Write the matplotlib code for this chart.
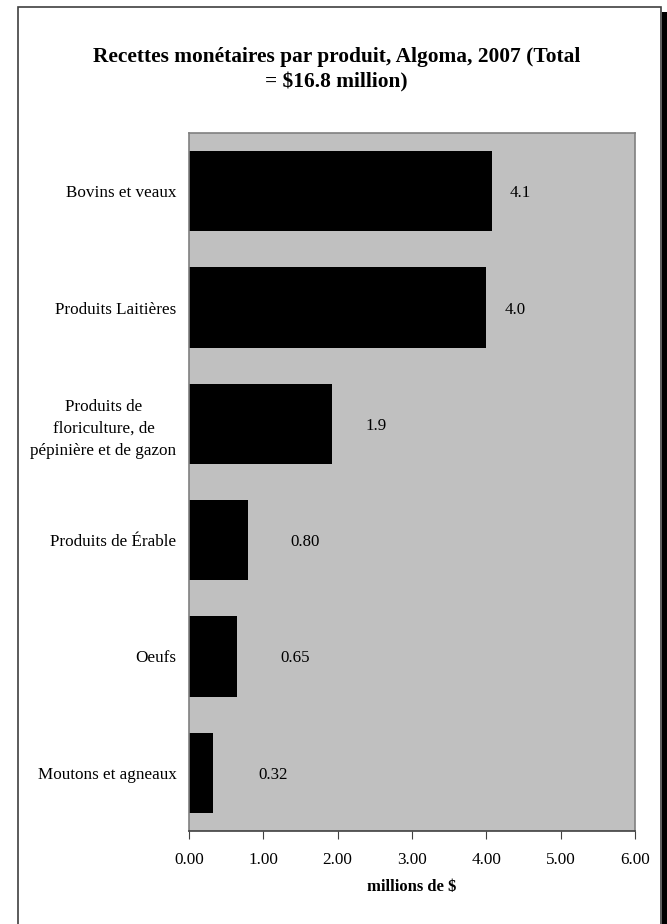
import matplotlib
matplotlib.use("Agg")
import matplotlib.pyplot as plt
from matplotlib.patches import Rectangle

plt.rcParams['font.family'] = ['Liberation Serif', 'DejaVu Serif']

# data
produits = ["Bovins et veaux",
            "Produits Laitières",
            "Produits de\nfloriculture, de\npépinière et de gazon",
            "Produits de Érable",
            "Oeufs",
            "Moutons et agneaux"]
recettes = [4.07, 3.99, 1.92, 0.80, 0.65, 0.32]
etiquettes = ["4.1", "4.0", "1.9", "0.80", "0.65", "0.32"]
xticks = [0, 1, 2, 3, 4, 5, 6]

fig = plt.figure(figsize=(6.67, 9.24), dpi=100)
ax = fig.add_axes([189/667, 1 - 831/924, (635 - 189)/667, (831 - 133)/924])

# outer frame + shadow (Excel style)
fig.patches.append(Rectangle((662/667, -0.1), 5/667, 1 - 12/924 + 0.1,
                             transform=fig.transFigure, facecolor='black',
                             edgecolor='none', zorder=-2))
fig.patches.append(Rectangle((18/667, -0.1), (661 - 18)/667, 1 - 7/924 + 0.1,
                             transform=fig.transFigure, facecolor='white',
                             edgecolor='#404040', linewidth=1.2, zorder=-1))

pos = list(range(len(produits)))
ax.barh(pos, recettes, height=0.69, color='black', zorder=2)
for p, v, t in zip(pos, recettes, etiquettes):
    ax.text(0.65 + 0.9 * v, p, t, ha='left', va='center_baseline', fontsize=12.2)

ax.set_facecolor('#C0C0C0')
ax.set_xlim(0, 6)
ax.set_ylim(len(produits) - 0.5, -0.5)
ax.set_xticks(xticks)
ax.set_xticklabels(["%.2f" % x for x in xticks], fontsize=12.3)
ax.set_yticks(pos)
ax.set_yticklabels(produits, fontsize=12.3, multialignment='center', linespacing=1.5)
ax.tick_params(axis='y', length=0, pad=9)
ax.tick_params(axis='x', length=6, color='#404040', pad=9)
for s in ax.spines.values():
    s.set_color('#808080')
    s.set_linewidth(1.2)
ax.spines['bottom'].set_color('#404040')

ax.set_xlabel("millions de $", fontsize=12, fontweight='bold', labelpad=8)
fig.text(0.5045, 1 - 69.5/924, "Recettes monétaires par produit, Algoma, 2007 (Total\n= $16.8 million)",
         ha='center', va='center', fontsize=15.4, fontweight='bold', linespacing=1.33)

fig.savefig("out.png", dpi=100)
